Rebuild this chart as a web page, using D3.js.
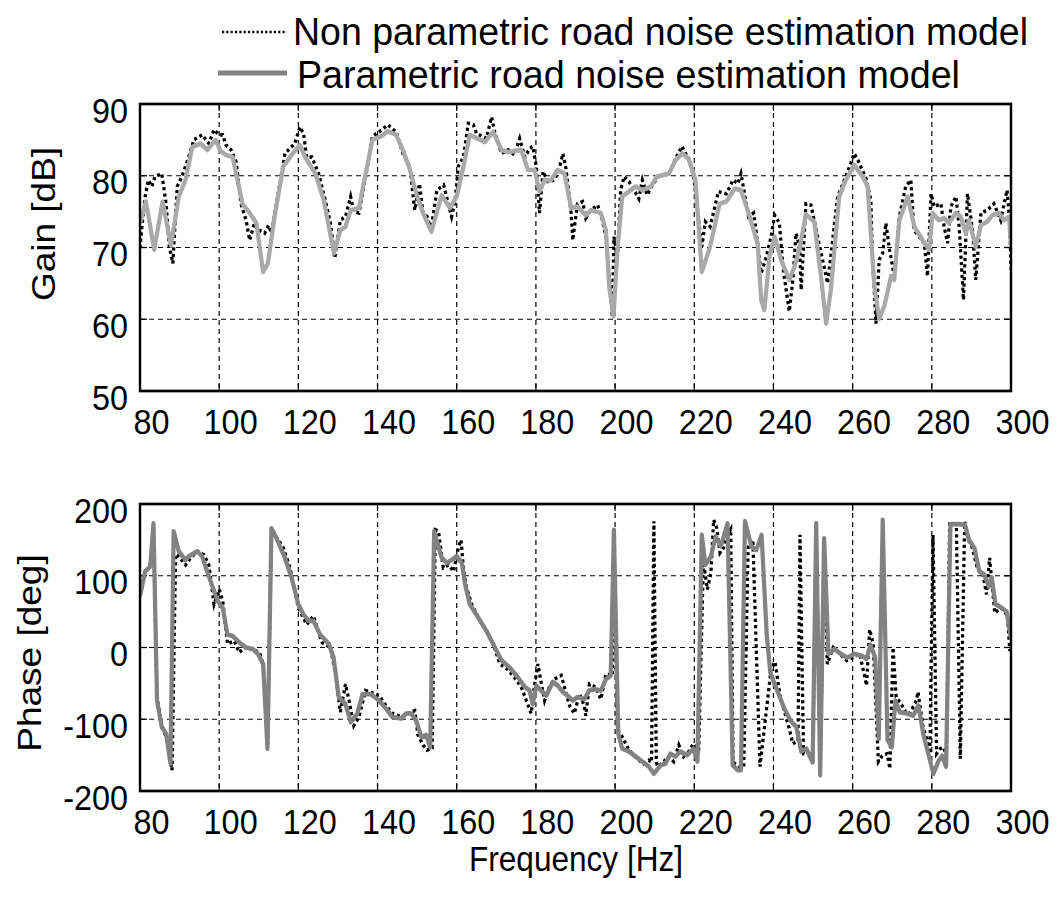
<!DOCTYPE html>
<html><head><meta charset="utf-8">
<script src="https://cdn.jsdelivr.net/npm/d3@7"></script>
<style>
html,body{margin:0;padding:0;background:#fff;}
svg{display:block;}
</style></head><body>
<svg id="chart"></svg>
<script>
// ---------- data ----------
const freqTicks = [80,100,120,140,160,180,200,220,240,260,280,300];
const gainTicks = [50,60,70,80,90];
const phaseTicks = [-200,-100,0,100,200];
const seriesNames = ["Non parametric road noise estimation model","Parametric road noise estimation model"];

// Parametric model (gray solid) - gain
const gainParamFreq = [80,81.5,83.6,85.7,87.8,89.8,91.5,93.2,95.3,97,99.1,100.4,101.7,103.4,105.9,107.7,109.4,111.1,112.3,114,116.2,118.3,120.4,121.7,124.3,126.4,129,130.6,131.9,133.2,135.3,137,138.7,140.9,142.6,144.7,146.4,148.1,149.8,151.5,153.6,156.2,158.3,160,161.7,163.3,167.1,169.2,171.3,173,176.3,178,179.7,180.9,182.2,183.8,185.5,187.2,188.9,190.5,192.6,193.9,196.4,197.7,198.5,199.6,200.6,201.8,203.5,205.2,206.9,209,210.6,213.6,215.3,216.9,218.6,220.3,221.9,224,226.4,228.1,230.2,231.8,234,236,236.9,237.7,239,240.3,241.9,244,245.3,246.6,248.2,250.3,252,253.3,254.5,256.6,258.3,260.4,262.5,263.8,265.5,266.7,268,269.7,270.5,271.8,273.9,275.6,277.7,279.3,280.2,281.8,283.1,284.3,286.1,287.3,288.6,289.4,291.1,292.4,294,295.3,297,298.2,299.5,300];
const gainParam = [73.4,76.4,69.7,76.4,70.3,77.1,79.4,84,84.5,83.6,85,83.4,82.9,82.6,76.1,74.8,73.4,66.6,67.8,74.3,81.3,82.9,84.3,82.6,80.3,76.6,69.2,72.4,72.9,75.2,75.5,80.3,85,85.5,86.2,85.7,83.6,81,77.5,74.8,72.2,77.3,75.5,77.1,81.3,85.7,84.7,86.1,83.6,83.3,83.6,80.8,80.8,77.8,79.4,79.4,80.8,80.3,75.5,75.7,74.5,75.2,74.8,72.4,64.5,60.4,69.7,77.1,77.8,78.5,78,78.5,79.9,80.3,82.2,83.1,82.4,79.4,66.6,70.1,76.1,76.4,78.2,78,74.3,70.6,62.7,61.3,68.7,71.5,68.3,65.5,67.3,69.9,74.6,73.6,66,59.4,64.1,77.1,79.4,81.5,79.9,78.5,64.5,60.1,61.8,66,65.5,73.8,77.1,72.9,71,69.7,74.8,73.8,74.1,73.4,74.8,74.3,72,73.8,70.1,73.1,73.6,74.5,74.8,73.8,74.3,70.1];

// Non parametric model (black dotted) - gain
const gainNonParamFreq = [80,80.4,81.3,82.1,83,83.8,85.5,86.6,87.4,88.3,89.4,90.6,92.3,93.6,95.7,97.4,98.7,100,100.9,101.7,103,104.3,105.5,106.8,107.7,108.9,110.2,111.5,112.5,113.2,114.9,116.6,119.1,120.4,121.3,122.1,123.4,125.1,126.8,128.1,129.2,130.6,131.9,133.2,134,135.3,137,138.7,140.4,142.6,144.7,146.4,148.1,149.4,150.6,151.5,152.5,153.5,155,156.7,158.7,159.6,160.4,161.7,162.9,164.2,165,167.5,168.8,169.6,171.3,173,174.6,175.9,177.2,178.4,179.2,180.1,180.9,181.8,183,184.7,185.9,186.8,187.6,188.9,189.3,190.5,191.8,192.6,193.9,195.6,196.8,197.7,198.5,199.3,199.7,200.6,201.4,202.3,203.5,204.8,206,206.9,208.1,209.4,211,213.6,215.3,216.9,218.6,219.8,221.1,221.9,222.8,224,226.1,228.1,229.8,231,231.8,233.7,235,235.6,236.9,238.2,239.4,240.3,241.5,242.4,243.2,244,244.9,245.7,246.6,247,248.2,249.5,250.8,252.4,253.7,256.2,258.3,260.4,261.3,263.4,264.6,265,265.9,266.7,267.6,268.4,269.2,270.5,271.8,273.4,274.7,275.5,276.8,278.1,278.9,279.8,280.6,282.3,283.1,284,284.8,286.1,286.9,288,289,290.3,291.1,292.4,294,295.7,297.4,299,299.7,300];
const gainNonParam = [69.9,72.4,77.1,79.4,78.5,79.9,80.3,76.1,70.1,67.8,78.5,79.9,82.6,85,85.7,84.5,86.4,85.7,85.7,84.3,83.6,81.9,76.1,73.8,71,73.4,72.4,72,73.1,72,77.5,83.1,84.5,86.8,85.9,82.6,82.6,80.3,76.6,73.4,68.5,73.8,74.3,77.1,75,74.8,79.9,85.5,86.1,87.1,86.1,83.1,81.3,75.2,78.9,74.8,74.3,72.5,78,78.7,74.3,76.6,81.3,82.6,87.3,87.1,85.9,85.2,88.2,86.1,83.1,83.6,82.9,85.2,82.6,83.8,84.1,81.3,74.8,80.6,79.2,79.4,81,83.1,81,74.8,71,76.1,76.4,74.1,75.2,75.9,73.8,71.5,65.9,60.4,71.5,68.7,78,79.9,79.2,78,76.8,79.4,77.3,78.7,79.9,80.3,82.4,84.1,82.2,80.1,73.8,70.1,73.6,72.9,77.8,77.5,79.4,78.9,80.3,74.3,74.8,72.4,66.4,68.7,71.5,74.5,73.4,67.3,64.1,61.1,65.5,72,70.1,64.1,76.1,75.9,72.4,68.3,65,77.1,79.9,83.1,82.2,79.6,76.6,68.7,59.4,68.3,69.2,73.4,70.1,66,74.3,78.5,79.4,72.4,71.5,70.6,66,77.5,75.7,76.1,72.9,70.6,75.7,77.1,72.9,62.7,77.5,72.4,65.5,74.8,75.2,76.1,73.8,78,73.4,66.9];

// Parametric model (gray solid) - phase
const phaseParamFreq = [80,81.3,82.6,83.4,84.3,85.5,86.6,87.7,88.5,89.8,91.5,92.3,94.5,95.7,97.4,99.6,100.9,102.1,103.4,104.7,105.5,106.8,108.5,109.8,111.1,112.2,113.2,114.5,116.6,118.3,120,121.3,122.6,123.8,125.5,127.7,128.9,130.2,131.9,133.2,134.9,136.2,138.3,140.4,142.1,143.8,146,147.2,148.5,149.8,151.1,152.3,153.3,154.3,156.2,157.5,158.7,160,161.3,162.1,163.3,165.4,167.5,169.2,171.3,173.4,175.5,177.2,178.4,179.2,180.1,181.3,182.6,184.3,185.5,186.8,188,189.3,190.5,192.2,193.5,194.7,196.4,197.7,198.9,199.7,200.8,201.8,203.5,205.2,206.9,208.5,209.8,211.5,212.7,214,215.2,216.5,218.2,219.8,220.8,221.9,222.8,224.2,225.4,226.7,228.4,229.7,231,231.8,232.8,234.5,235.7,237,238.3,239.2,240.6,242.6,244.3,245.8,247,248.3,249.9,250.8,251.8,252.8,253.9,255.4,257,258.6,260.5,262.5,263.5,264.5,265.7,266.6,267.6,268.8,269.9,270.8,271.9,273.7,275.3,276.6,277.9,279.2,280.4,281.7,282.6,283.6,284.7,286.7,288.4,289.4,290.8,292,293.2,294.4,295.1,296.1,297.5,298.9,300];
const phaseParam = [72,106,113,173,-74,-111,-120,-162,162,134,122,127,134,127,99,65,55,18,16,9,5,0,-2,-9,-23,-141,166,152,125,97,60,46,37,37,18,5,-14,-69,-79,-104,-92,-65,-65,-74,-85,-97,-99,-92,-92,-102,-125,-122,-139,162,125,118,122,127,118,88,60,42,23,5,-18,-28,-42,-55,-60,-79,-53,-60,-67,-48,-53,-62,-67,-74,-69,-72,-60,-58,-60,-44,-39,164,-120,-141,-145,-152,-159,-166,-176,-164,-162,-148,-152,-145,-150,-141,-159,157,115,127,155,141,173,-164,-171,-171,176,140,136,157,18,-35,-55,-83,-102,-111,-145,-141,-160,173,-178,152,-9,-2,-9,-14,-9,-12,-16,4,-14,-127,178,-129,-139,-74,-90,-92,-95,-81,-122,-150,-176,-158,-151,-166,172,172,171,150,138,106,102,85,98,60,56,50,12];

// Non parametric model (black dotted) - phase
const phaseNonParamFreq = [80,81.3,82.6,83.4,84.3,85.5,86.6,87.4,88.1,89,89.8,91.5,92.8,94.5,96.2,97.4,98.7,100,100.9,102.1,103.8,105.1,106.4,108.1,110.2,111.1,112.2,113.2,114.9,116.2,117.9,120,122.1,123.8,126,128.1,129.4,130.6,131.9,132.8,134,135.3,137,140.4,142.1,143.8,146,147.7,149.4,150.2,151.5,152.5,153.8,154.6,155.4,156.6,157.9,159.2,160.4,161.1,161.7,162.5,163.8,165.4,167.5,169.2,170.9,172.8,174.6,176.3,178.8,179.6,180.5,181.3,182.2,183.4,184.7,186.4,187.2,188.5,189.7,191,192.2,192.6,193.5,195.1,196.4,197.7,199.3,199.7,200.6,201.4,203.5,205.6,207.2,208.5,209.2,209.8,210.4,210.8,212.3,213.6,214.8,216.1,217.3,218.6,219.8,221.1,222.3,223.3,224.2,224.9,225.7,226.5,227.4,228.3,229.2,229.8,231.4,232.5,233.6,234.8,236.6,239.4,240.4,241.7,243.9,244.9,246.2,246.7,247.6,249.2,249.9,250.8,251.8,252.8,253.6,255.1,258.5,261.8,263.1,263.5,264.3,265.2,265.9,266.5,267.6,268.7,269.4,270.2,271,272.3,273.6,274.4,276.1,276.5,277.8,279.1,279.5,280.3,281.2,282.1,282.9,283.7,284.5,286.2,287.2,288.3,289.2,290,291.5,292.9,293.8,294.6,295.9,297.5,299.1,299.7];
const phaseNonParam = [72,106,115,170,-70,-108,-125,-150,-171,130,127,115,125,134,129,115,60,81,65,5,9,-7,0,-2,-7,-23,-138,165,150,139,111,55,32,44,7,0,-37,-90,-51,-74,-109,-97,-60,-67,-81,-92,-97,-92,-88,-122,-136,-143,-140,164,162,111,115,106,139,150,109,83,60,42,23,5,-23,-30,-42,-55,-92,-55,-23,-48,-74,-55,-44,-39,-55,-81,-92,-65,-81,-95,-51,-55,-72,-37,-39,160,-115,-120,-143,-155,-162,-157,-160,176,-160,-166,-159,-152,-159,-136,-152,-145,-134,-148,120,81,104,178,166,132,139,157,165,-160,-166,-166,140,150,-166,-30,-20,-69,-111,-134,-130,157,-148,-148,-160,170,-175,150,-23,0,-18,-9,-42,-53,25,5,-83,-159,-150,-148,-169,0,-69,-79,-92,-92,-74,-62,-111,-134,-148,157,-148,-141,-139,-150,172,172,-155,175,150,143,110,104,74,125,48,55,45,-5];

// ---------- layout ----------
const WIDTH = 1059, HEIGHT = 898;
const SX = 0.9;                 // reference glyphs are horizontally condensed
const VBW = WIDTH / SX;
const px = v => v / SX;          // convert screen x to viewBox x
const FONT = '"Liberation Sans", Arial, Helvetica, sans-serif';

const svg = d3.select('#chart')
  .attr('width', WIDTH).attr('height', HEIGHT)
  .attr('viewBox', `0 0 ${VBW} ${HEIGHT}`)
  .attr('preserveAspectRatio', 'none');

const x = d3.scaleLinear().domain([80, 300]).range([px(140), px(1011)]);
const yGain = d3.scaleLinear().domain([50, 90]).range([391, 104]);
const yPhase = d3.scaleLinear().domain([-200, 200]).range([791, 504]);

const GRAY_TOP = '#a9a9a9', GRAY_BOT = '#828282';

function drawPanel(id, y, yTicks, dotted, solid, solidColor) {
  const g = svg.append('g');
  const [x0, x1] = x.range();
  const [yb, yt] = y.range();

  g.append('clipPath').attr('id', id).append('rect')
    .attr('x', x0).attr('y', yt).attr('width', x1 - x0).attr('height', yb - yt);

  // grid
  const inner = freqTicks.filter(d => d !== 80 && d !== 300);
  g.selectAll('.vg').data(inner).enter().append('line')
    .attr('x1', d => x(d)).attr('x2', d => x(d)).attr('y1', yt).attr('y2', yb)
    .attr('stroke', '#000').attr('stroke-width', 1.3).attr('stroke-dasharray', '5,4');
  const innerY = yTicks.slice(1, -1);
  g.selectAll('.hg').data(innerY).enter().append('line')
    .attr('x1', x0).attr('x2', x1).attr('y1', d => y(d)).attr('y2', d => y(d))
    .attr('stroke', '#000').attr('stroke-width', 1.2).attr('stroke-dasharray', '5.5,4.5');

  // inward tick marks
  g.selectAll('.tb').data(inner).enter().append('line')
    .attr('x1', d => x(d)).attr('x2', d => x(d)).attr('y1', yb).attr('y2', yb - 7)
    .attr('stroke', '#000').attr('stroke-width', 1.3);
  g.selectAll('.tt').data(inner).enter().append('line')
    .attr('x1', d => x(d)).attr('x2', d => x(d)).attr('y1', yt).attr('y2', yt + 7)
    .attr('stroke', '#000').attr('stroke-width', 1.3);
  g.selectAll('.tl').data(innerY).enter().append('line')
    .attr('x1', x0).attr('x2', x0 + px(7)).attr('y1', d => y(d)).attr('y2', d => y(d))
    .attr('stroke', '#000').attr('stroke-width', 1.3);
  g.selectAll('.tr').data(innerY).enter().append('line')
    .attr('x1', x1).attr('x2', x1 - px(7)).attr('y1', d => y(d)).attr('y2', d => y(d))
    .attr('stroke', '#000').attr('stroke-width', 1.3);

  const lines = g.append('g').attr('clip-path', `url(#${id})`);
  const mk = (fr, vals) => d3.line().x((d, i) => x(fr[i])).y(d => y(d))(vals);

  lines.append('path').attr('d', mk(dotted[0], dotted[1]))
    .attr('fill', 'none').attr('stroke', '#000').attr('stroke-width', 3.6)
    .attr('stroke-dasharray', '3.2,3.2');
  lines.append('path').attr('d', mk(solid[0], solid[1]))
    .attr('fill', 'none').attr('stroke', solidColor).attr('stroke-width', 4.7)
    .attr('stroke-linejoin', 'round');

  // frame
  g.append('rect').attr('x', x0).attr('y', yt).attr('width', x1 - x0).attr('height', yb - yt)
    .attr('fill', 'none').attr('stroke', '#000').attr('stroke-width', 2.7);

  // axes (labels in the reference sit slightly right of their grid lines)
  const ax = g.append('g').attr('transform', `translate(${px(11)},${yb})`)
    .call(d3.axisBottom(x).tickValues(freqTicks).tickSize(0).tickPadding(17).tickFormat(d => String(d)));
  ax.select('.domain').remove();
  ax.attr('font-size', 36).attr('font-family', FONT);
  ax.selectAll('text').attr('fill', '#000');

  const ay = g.append('g').attr('transform', `translate(${x0 + px(3)},0)`)
    .call(d3.axisLeft(y).tickValues(yTicks).tickSize(0).tickPadding(px(15)).tickFormat(d => String(d)));
  ay.select('.domain').remove();
  ay.attr('font-size', 36).attr('font-family', FONT);
  ay.selectAll('text').attr('fill', '#000').attr('dy', '0.5em');
}

drawPanel('clipGain', yGain, gainTicks, [gainNonParamFreq, gainNonParam], [gainParamFreq, gainParam], GRAY_TOP);
drawPanel('clipPhase', yPhase, phaseTicks, [phaseNonParamFreq, phaseNonParam], [phaseParamFreq, phaseParam], GRAY_BOT);

// axis titles
svg.append('text').attr('transform', `translate(${px(55)},224) rotate(-90)`)
  .attr('text-anchor', 'middle').attr('font-family', FONT).attr('font-size', 37).text('Gain [dB]');
svg.append('text').attr('transform', `translate(${px(41)},653) rotate(-90)`)
  .attr('text-anchor', 'middle').attr('font-family', FONT).attr('font-size', 37).text('Phase [deg]');
svg.append('text').attr('x', px(576)).attr('y', 871)
  .attr('text-anchor', 'middle').attr('font-family', FONT).attr('font-size', 36)
  .attr('textLength', px(214)).attr('lengthAdjust', 'spacingAndGlyphs').text('Frequency [Hz]');

// legend
const leg = svg.append('g');
leg.append('line').attr('x1', px(222)).attr('x2', px(287)).attr('y1', 32).attr('y2', 32)
  .attr('stroke', '#000').attr('stroke-width', 2.6).attr('stroke-dasharray', '2.4,2.4');
leg.append('text').attr('x', px(293)).attr('y', 45).attr('font-family', FONT).attr('font-size', 38)
  .attr('textLength', px(735)).attr('lengthAdjust', 'spacingAndGlyphs').text(seriesNames[0]);
leg.append('line').attr('x1', px(218)).attr('x2', px(287)).attr('y1', 73).attr('y2', 73)
  .attr('stroke', GRAY_BOT).attr('stroke-width', 5);
leg.append('text').attr('x', px(297)).attr('y', 88).attr('font-family', FONT).attr('font-size', 38)
  .attr('textLength', px(663)).attr('lengthAdjust', 'spacingAndGlyphs').text(seriesNames[1]);
</script>
</body></html>
